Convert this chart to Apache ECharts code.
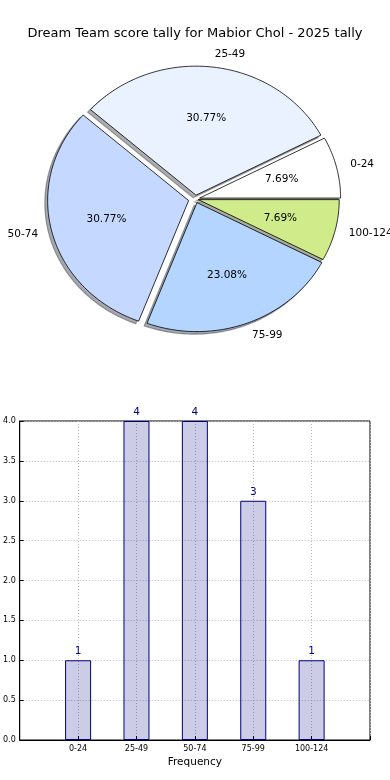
<!DOCTYPE html>
<html>
<head>
<meta charset="utf-8">
<script src="https://cdn.jsdelivr.net/npm/echarts@6/dist/echarts.min.js"></script>
<style>
html,body{margin:0;padding:0;background:#fff;}
#chart{width:390px;height:780px;}
</style>
</head>
<body>
<div id="chart"></div>
<script>
// ---- data ----
const titleText = 'Dream Team score tally for Mabior Chol - 2025 tally';
const categories = ['0-24', '25-49', '50-74', '75-99', '100-124'];
const counts = [1, 4, 4, 3, 1];
const yTicks = [0, 0.5, 1, 1.5, 2, 2.5, 3, 3.5, 4];
const xLabelName = 'Frequency';

// ---- style ----
const sliceColors = ['#ffffff', '#eaf2ff', '#c5d8ff', '#b3d5ff', '#d0eb8a'];
const explode = [0.03, 0.03, 0.05, 0.03, 0.02];
const FONT = 'DejaVu Sans';

const total = counts.reduce((a, b) => a + b, 0);
function sliceGeom(i) {
  let before = 0;
  for (let k = 0; k < i; k++) before += counts[k];
  const start = before / total * 360;
  const end = (before + counts[i]) / total * 360;
  const mid = (start + end) / 2 * Math.PI / 180;
  const e = explode[i];
  return { start, end, mid, cx: e * Math.cos(mid), cy: e * Math.sin(mid) };
}
function slicePoints(api, i, ox, oy) {
  const g = sliceGeom(i);
  const pts = [api.coord([g.cx + ox, g.cy + oy])];
  const steps = Math.max(8, Math.ceil(g.end - g.start));
  for (let s = 0; s <= steps; s++) {
    const a = (g.start + (g.end - g.start) * s / steps) * Math.PI / 180;
    pts.push(api.coord([g.cx + ox + Math.cos(a), g.cy + oy + Math.sin(a)]));
  }
  return pts;
}
function hexToRgb(h) {
  return [parseInt(h.substr(1, 2), 16), parseInt(h.substr(3, 2), 16), parseInt(h.substr(5, 2), 16)];
}

const chart = echarts.init(document.getElementById('chart'), null, { renderer: 'canvas' });

const gridLine = { show: true, lineStyle: { color: '#b8b8b8', type: [1, 2], width: 1 } };

const option = {
  backgroundColor: '#ffffff',
  animation: false,
  title: {
    text: titleText,
    left: 'center',
    top: 22,
    textStyle: { fontFamily: FONT, fontSize: 13, fontWeight: 'normal', color: '#000' }
  },
  grid: [
    { left: 26.3, top: 44.2, width: 338.4, height: 309.6, show: false },
    { left: 19, top: 421, right: 20, bottom: 40, show: true, borderColor: '#000', borderWidth: 1, backgroundColor: 'transparent' }
  ],
  xAxis: [
    { gridIndex: 0, type: 'value', min: -1.2, max: 1.2, show: false },
    {
      gridIndex: 1, type: 'value', min: -1, max: 5, interval: 1,
      name: xLabelName, nameLocation: 'middle', nameGap: 17,
      nameTextStyle: { fontFamily: FONT, fontSize: 10.5, color: '#000' },
      axisLine: { show: true, onZero: false, lineStyle: { color: '#000' } },
      axisTick: { show: true, inside: true, length: 4, lineStyle: { color: '#000' } },
      axisLabel: {
        fontFamily: FONT, fontSize: 8, color: '#000', margin: 5,
        formatter: v => (categories[v] !== undefined ? categories[v] : '')
      },
      splitLine: gridLine
    }
  ],
  yAxis: [
    { gridIndex: 0, type: 'value', min: -1.2, max: 1.2, show: false },
    {
      gridIndex: 1, type: 'value', min: yTicks[0], max: yTicks[yTicks.length - 1], interval: 0.5,
      axisLine: { show: true, onZero: false, lineStyle: { color: '#000' } },
      axisTick: { show: true, inside: true, length: 4, lineStyle: { color: '#000' } },
      axisLabel: { fontFamily: FONT, fontSize: 8, color: '#000', margin: 4, formatter: v => v.toFixed(1) },
      splitLine: gridLine
    }
  ],
  series: [
    {
      type: 'custom', name: 'shadow', xAxisIndex: 0, yAxisIndex: 0, z: 1,
      data: counts.map((c, i) => [i, c]),
      renderItem: function (params, api) {
        const i = params.dataIndex;
        const rgb = hexToRgb(sliceColors[i]).map(v => Math.round(v * 0.3));
        const col = 'rgba(' + rgb.join(',') + ',0.45)';
        return {
          type: 'polygon',
          shape: { points: slicePoints(api, i, -0.02, -0.02) },
          style: { fill: col, stroke: col, lineWidth: 1.2 }
        };
      }
    },
    {
      type: 'custom', name: 'pie', xAxisIndex: 0, yAxisIndex: 0, z: 2,
      data: counts.map((c, i) => [i, c]),
      renderItem: function (params, api) {
        const i = params.dataIndex;
        const g = sliceGeom(i);
        const cm = Math.cos(g.mid), sm = Math.sin(g.mid);
        const pctPos = api.coord([g.cx + 0.6 * cm, g.cy + 0.6 * sm]);
        const labPos = api.coord([g.cx + 1.1 * cm, g.cy + 1.1 * sm]);
        const pct = (counts[i] / total * 100).toFixed(2) + '%';
        return {
          type: 'group',
          children: [
            {
              type: 'polygon',
              shape: { points: slicePoints(api, i, 0, 0) },
              style: { fill: sliceColors[i], stroke: '#000', lineWidth: 0.8 },
              z2: 1
            },
            {
              type: 'text', z2: 5,
              style: {
                x: pctPos[0], y: pctPos[1], text: pct, fill: '#000',
                font: '10.5px "DejaVu Sans"', align: 'center', verticalAlign: 'middle'
              }
            },
            {
              type: 'text', z2: 5,
              style: {
                x: labPos[0], y: labPos[1], text: categories[i], fill: '#000',
                font: '10.5px "DejaVu Sans"', align: cm < 0 ? 'right' : 'left', verticalAlign: 'middle'
              }
            }
          ]
        };
      }
    },
    {
      type: 'bar', name: 'counts', xAxisIndex: 1, yAxisIndex: 1,
      data: counts.map((c, i) => [i, c]),
      barWidth: 26,
      itemStyle: { color: 'rgba(0,0,128,0.2)', borderColor: '#000080', borderWidth: 1 },
      label: {
        show: true, position: 'top', distance: 3, color: '#000080',
        fontFamily: FONT, fontSize: 10.5, formatter: p => String(p.value[1])
      }
    }
  ]
};
chart.setOption(option);
</script>
</body>
</html>
